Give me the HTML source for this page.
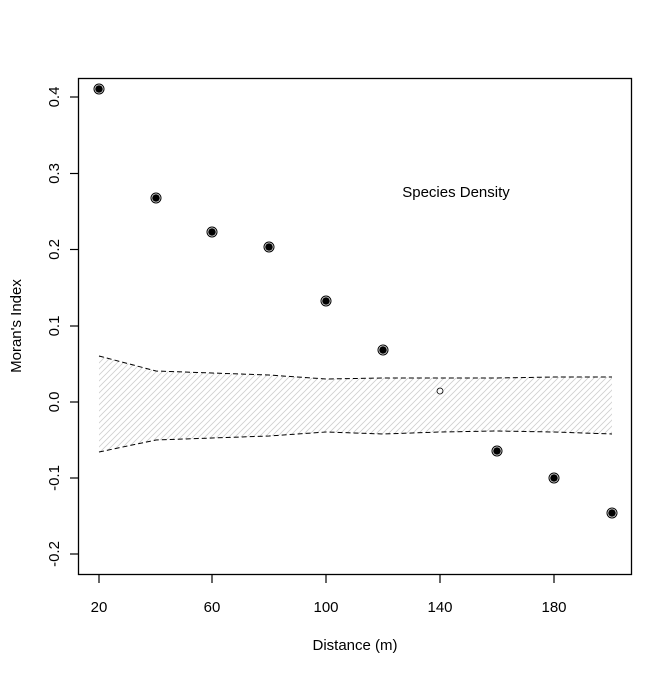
<!DOCTYPE html><html><head><style>body{margin:0;background:#fff}</style></head><body>
<svg width="672" height="672" xmlns="http://www.w3.org/2000/svg" font-family="Liberation Sans, sans-serif" font-size="15">
<defs><pattern id="h" patternUnits="userSpaceOnUse" width="6" height="6"><path d="M0,6 L6,0 M-1,1 L1,-1 M5,7 L7,5" stroke="#cfcfcf" stroke-width="0.8"/></pattern></defs>
<rect width="672" height="672" fill="#fff"/>
<polygon points="99,356 156,371 212,373 269,375 326,379 383,378 440,378 497,378 554,377 612,377 612,434 554,432 497,431 440,432 383,434 326,432 269,436 212,438 156,440 99,452" fill="url(#h)"/>
<polyline points="99,356 156,371 212,373 269,375 326,379 383,378 440,378 497,378 554,377 612,377" fill="none" stroke="#000" stroke-dasharray="5,3"/>
<polyline points="99,452 156,440 212,438 269,436 326,432 383,434 440,432 497,431 554,432 612,434" fill="none" stroke="#000" stroke-dasharray="5,3"/>
<rect x="78.5" y="78.5" width="553" height="496" fill="none" stroke="#000" stroke-width="1.3"/>
<g stroke="#000" stroke-width="1.2">
<line x1="70" y1="97" x2="78" y2="97"/><line x1="70" y1="173.5" x2="78" y2="173.5"/><line x1="70" y1="249.5" x2="78" y2="249.5"/><line x1="70" y1="326" x2="78" y2="326"/><line x1="70" y1="402" x2="78" y2="402"/><line x1="70" y1="478" x2="78" y2="478"/><line x1="70" y1="554" x2="78" y2="554"/>
<line x1="99" y1="575" x2="99" y2="583"/><line x1="212" y1="575" x2="212" y2="583"/><line x1="326" y1="575" x2="326" y2="583"/><line x1="440" y1="575" x2="440" y2="583"/><line x1="554" y1="575" x2="554" y2="583"/>
</g>
<g text-anchor="middle">
<text x="99" y="612">20</text><text x="212" y="612">60</text><text x="326" y="612">100</text><text x="440" y="612">140</text><text x="554" y="612">180</text>
<text x="355" y="650">Distance (m)</text>
<text transform="translate(59,97) rotate(-90)">0.4</text>
<text transform="translate(59,173.5) rotate(-90)">0.3</text>
<text transform="translate(59,249.5) rotate(-90)">0.2</text>
<text transform="translate(59,326) rotate(-90)">0.1</text>
<text transform="translate(59,402) rotate(-90)">0.0</text>
<text transform="translate(59,478) rotate(-90)">-0.1</text>
<text transform="translate(59,554) rotate(-90)">-0.2</text>
<text transform="translate(21,326) rotate(-90)">Moran's Index</text>
<text x="456" y="197">Species Density</text>
</g>
<g fill="#000" stroke="#000">
<circle cx="99" cy="89" r="5" fill="none"/><circle cx="99" cy="89" r="3.3"/>
<circle cx="156" cy="198" r="5" fill="none"/><circle cx="156" cy="198" r="3.3"/>
<circle cx="212" cy="232" r="5" fill="none"/><circle cx="212" cy="232" r="3.3"/>
<circle cx="269" cy="247" r="5" fill="none"/><circle cx="269" cy="247" r="3.3"/>
<circle cx="326" cy="301" r="5" fill="none"/><circle cx="326" cy="301" r="3.3"/>
<circle cx="383" cy="350" r="5" fill="none"/><circle cx="383" cy="350" r="3.3"/>
<circle cx="440" cy="391" r="3" fill="none" stroke-width="0.8"/>
<circle cx="497" cy="451" r="5" fill="none"/><circle cx="497" cy="451" r="3.3"/>
<circle cx="554" cy="478" r="5" fill="none"/><circle cx="554" cy="478" r="3.3"/>
<circle cx="612" cy="513" r="5" fill="none"/><circle cx="612" cy="513" r="3.3"/>
</g>
</svg></body></html>
